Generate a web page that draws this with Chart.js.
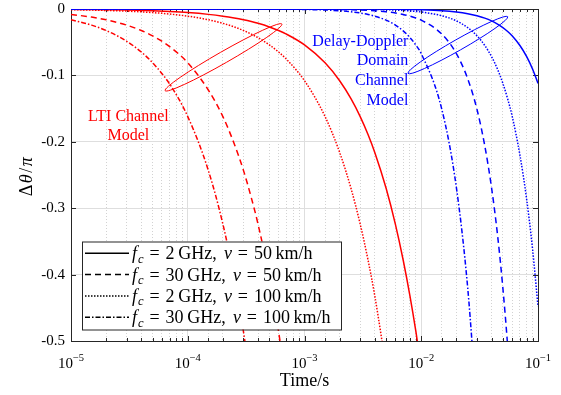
<!DOCTYPE html>
<html lang="en">
<head>
<meta charset="UTF-8" />
<title>Phase error over time</title>
<script src="https://cdn.jsdelivr.net/npm/chart.js@4.4.0/dist/chart.umd.min.js"></script>
<style>
  html, body { margin: 0; padding: 0; background: #fff; }
  #wrap { width: 561px; height: 395px; }
</style>
</head>
<body>
<div id="wrap"><canvas id="phaseChart" width="561" height="395"></canvas></div>
<script>
// time axis samples (s)
const timeS = [1e-5, 1.5e-5, 2e-5, 3e-5, 4e-5, 5e-5, 7e-5, 1e-4, 1.5e-4, 2e-4, 2.5e-4,
  3e-4, 3.5e-4, 4e-4, 5e-4, 6e-4, 7e-4, 1e-3, 1.5e-3, 2e-3, 2.5e-3, 3e-3, 3.5e-3, 4e-3,
  5e-3, 6e-3, 7e-3, 8e-3, 9e-3, 1e-2, 1.5e-2, 2e-2, 2.5e-2, 3e-2, 3.5e-2, 4e-2, 4.5e-2,
  5e-2, 5.5e-2, 6e-2, 7e-2, 8e-2, 9e-2, 1e-1];

// LTI channel model, delta theta / pi
const ltiSolid = [-0.0005, -0.0008, -0.0011, -0.0016, -0.0022, -0.0027, -0.0038, -0.0054,
  -0.0081, -0.0108, -0.0135, -0.0162, -0.0189, -0.0216, -0.027, -0.0324, -0.0378, -0.054,
  -0.081, -0.108, -0.135, -0.162, -0.189, -0.216, -0.27, -0.324, -0.378, -0.432, -0.486,
  -0.54, null, null, null, null, null, null, null, null, null, null, null, null, null, null];
const ltiDashed = [-0.0081, -0.0122, -0.0162, -0.0243, -0.0324, -0.0405, -0.0567, -0.081,
  -0.122, -0.162, -0.203, -0.243, -0.284, -0.324, -0.405, -0.486, -0.567,
  null, null, null, null, null, null, null, null, null, null, null, null, null, null, null,
  null, null, null, null, null, null, null, null, null, null, null, null];
const ltiDotted = [-0.0011, -0.0016, -0.0022, -0.0032, -0.0043, -0.0054, -0.0076, -0.0108,
  -0.0162, -0.0216, -0.027, -0.0324, -0.0378, -0.0432, -0.054, -0.0648, -0.0756, -0.108,
  -0.162, -0.216, -0.27, -0.324, -0.378, -0.432, -0.54,
  null, null, null, null, null, null, null, null, null, null, null, null, null, null, null,
  null, null, null, null];
const ltiDashDot = [-0.0162, -0.0243, -0.0324, -0.0486, -0.0648, -0.081, -0.113, -0.162,
  -0.243, -0.324, -0.405, -0.486, -0.567,
  null, null, null, null, null, null, null, null, null, null, null, null, null, null, null,
  null, null, null, null, null, null, null, null, null, null, null, null, null, null, null, null];

// delay-Doppler domain channel model
const ddSolid = [0, 0, 0, 0, 0, 0, 0, 0, 0, 0, 0, 0, 0, 0, 0, 0, 0, 0, 0, 0, 0, 0, 0, 0,
  -0.0003, -0.0004, -0.0005, -0.0007, -0.0009, -0.0011, -0.0025, -0.0045, -0.007, -0.0101,
  -0.0137, -0.0179, -0.0227, -0.028, -0.0339, -0.0403, -0.0549, -0.0717, -0.0907, -0.112];
const ddDashed = [0, 0, 0, 0, 0, 0, 0, 0, 0, 0, 0, 0, 0, 0, 0, 0, 0,
  -0.0002, -0.0004, -0.0007, -0.0011, -0.0015, -0.0021, -0.0027, -0.0042, -0.006, -0.0082,
  -0.0108, -0.0136, -0.0168, -0.0378, -0.0672, -0.105, -0.151, -0.206, -0.269, -0.34, -0.42,
  -0.508, -0.605, null, null, null, null];
const ddDotted = [0, 0, 0, 0, 0, 0, 0, 0, 0, 0, 0, 0, 0, 0, 0, 0, 0, 0, 0, 0,
  -0.0003, -0.0004, -0.0005, -0.0007, -0.0011, -0.0016, -0.0022, -0.0029, -0.0036, -0.0045,
  -0.0101, -0.0179, -0.028, -0.0403, -0.0549, -0.0717, -0.0907, -0.112, -0.1355, -0.161,
  -0.22, -0.287, -0.363, -0.448];
const ddDashDot = [0, 0, 0, 0, 0, 0, 0, 0, 0, 0, 0, 0, 0, 0,
  -0.0002, -0.0002, -0.0003, -0.0007, -0.0015, -0.0027, -0.0042, -0.006, -0.0082, -0.0108,
  -0.0168, -0.0242, -0.0329, -0.043, -0.0544, -0.0672, -0.151, -0.269, -0.42, -0.605,
  null, null, null, null, null, null, null, null, null, null];

const yTickValues = [0, -0.1, -0.2, -0.3, -0.4, -0.5];
const yTickLabels = ['0', '-0.1', '-0.2', '-0.3', '-0.4', '-0.5'];
const xTickValues = [1e-5, 1e-4, 1e-3, 1e-2, 1e-1];
const xTickExps = ['\u22125', '\u22124', '\u22123', '\u22122', '\u22121'];

const legendFc = ['2', '30', '2', '30'];
const legendV = ['50', '50', '100', '100'];
const legendDash = [[], [6, 4], [1.5, 1.5], [5, 2, 1.5, 2]];

const RED = '#ff0000';
const BLUE = '#0000ff';
const FONT = '"Liberation Serif", "Times New Roman", serif';

function pts(ys) {
  return timeS.map((t, i) => ({ x: t, y: ys[i] }));
}

function line(ys, color, dash) {
  return {
    data: pts(ys),
    borderColor: color,
    borderWidth: 1.5,
    borderDash: dash,
    pointRadius: 0,
    fill: false,
    cubicInterpolationMode: 'monotone',
    spanGaps: false,
  };
}

function isDecade(v) {
  const l = Math.log10(v);
  return Math.abs(l - Math.round(l)) < 1e-6;
}

const decor = {
  id: 'decor',
  beforeDatasetsDraw(chart) {
    const { ctx, chartArea: a, scales } = chart;
    const xs = scales.x;
    ctx.save();
    ctx.strokeStyle = '#262626';
    ctx.lineWidth = 1;
    ctx.beginPath();
    xs.ticks.forEach((tk) => {
      const px = Math.round(xs.getPixelForValue(tk.value)) + 0.5;
      const len = isDecade(tk.value) ? 5 : 3;
      ctx.moveTo(px, a.bottom); ctx.lineTo(px, a.bottom - len);
      ctx.moveTo(px, a.top); ctx.lineTo(px, a.top + len);
    });
    yTickValues.forEach((v) => {
      const py = Math.round(scales.y.getPixelForValue(v)) + 0.5;
      ctx.moveTo(a.left, py); ctx.lineTo(a.left + 5, py);
      ctx.moveTo(a.right, py); ctx.lineTo(a.right - 5, py);
    });
    ctx.stroke();
    ctx.strokeRect(Math.round(a.left) + 0.5, Math.round(a.top) + 0.5,
      Math.round(a.right - a.left), Math.round(a.bottom - a.top));
    ctx.restore();
  },
  afterDraw(chart) {
    const { ctx, chartArea: a, scales } = chart;
    const xs = scales.x, ys = scales.y;
    ctx.save();
    ctx.fillStyle = '#000';

    // y tick labels
    ctx.font = '15px ' + FONT;
    ctx.textAlign = 'right';
    ctx.textBaseline = 'middle';
    yTickValues.forEach((v, i) => {
      ctx.fillText(yTickLabels[i], a.left - 6, ys.getPixelForValue(v));
    });

    // x tick labels 10^n
    ctx.textBaseline = 'alphabetic';
    ctx.textAlign = 'left';
    xTickValues.forEach((v, i) => {
      ctx.font = '15px ' + FONT;
      const w1 = ctx.measureText('10').width;
      ctx.font = '10.5px ' + FONT;
      const w2 = ctx.measureText(xTickExps[i]).width;
      const x0 = xs.getPixelForValue(v) - (w1 + w2) / 2;
      ctx.font = '15px ' + FONT;
      ctx.fillText('10', x0, a.bottom + 27);
      ctx.font = '10.5px ' + FONT;
      ctx.fillText(xTickExps[i], x0 + w1, a.bottom + 20);
    });

    // x title
    ctx.font = '18px ' + FONT;
    ctx.textAlign = 'center';
    ctx.fillText('Time/s', (a.left + a.right) / 2, a.bottom + 45);

    // y title, rotated
    ctx.save();
    ctx.translate(27, (a.top + a.bottom) / 2 + 1);
    ctx.rotate(-Math.PI / 2);
    const yParts = [['\u0394', ''], ['\u03b8', 'italic '], ['/', ''], ['\u03c0', 'italic ']];
    let tot = 0;
    yParts.forEach((p) => { ctx.font = p[1] + '18px ' + FONT; tot += ctx.measureText(p[0]).width + 1.5; });
    let cx = -tot / 2;
    ctx.textAlign = 'left';
    ctx.textBaseline = 'middle';
    yParts.forEach((p) => {
      ctx.font = p[1] + '18px ' + FONT;
      ctx.fillText(p[0], cx, 0);
      cx += ctx.measureText(p[0]).width + 1.5;
    });
    ctx.restore();

    // ellipses marking the two model groups
    const ellipses = [
      { from: [6.4e-5, -0.123], to: [6.4e-4, -0.0226], minor: 5.8, color: RED },
      { from: [7.7e-3, -0.097], to: [5.5e-2, -0.0116], minor: 5.5, color: BLUE },
    ];
    ctx.lineWidth = 1;
    ellipses.forEach((e) => {
      const x1 = xs.getPixelForValue(e.from[0]), y1 = ys.getPixelForValue(e.from[1]);
      const x2 = xs.getPixelForValue(e.to[0]), y2 = ys.getPixelForValue(e.to[1]);
      const len = Math.hypot(x2 - x1, y2 - y1) / 2;
      ctx.strokeStyle = e.color;
      ctx.beginPath();
      ctx.ellipse((x1 + x2) / 2, (y1 + y2) / 2, len, e.minor, Math.atan2(y2 - y1, x2 - x1), 0, Math.PI * 2);
      ctx.stroke();
    });

    // group labels
    ctx.font = '16px ' + FONT;
    ctx.fillStyle = RED;
    ctx.textAlign = 'center';
    const lx = xs.getPixelForValue(3.1e-5), ly = ys.getPixelForValue(-0.168);
    ctx.fillText('LTI Channel', lx, ly);
    ctx.fillText('Model', lx, ly + 19.5);

    ctx.fillStyle = BLUE;
    ctx.textAlign = 'right';
    const bx = xs.getPixelForValue(7.75e-3), by = ys.getPixelForValue(-0.055);
    ['Delay-Doppler', 'Domain', 'Channel', 'Model'].forEach((s, i) => {
      ctx.fillText(s, bx, by + i * 19.7);
    });

    // legend
    const L = { x: 82, y: 241.5, w: 259, h: 88, row: 21.3, first: 11.8 };
    ctx.fillStyle = '#fff';
    ctx.fillRect(L.x, L.y, L.w, L.h);
    ctx.strokeStyle = '#262626';
    ctx.lineWidth = 1;
    ctx.strokeRect(L.x + 0.5, L.y + 0.5, L.w, L.h);
    const S = 18;
    legendFc.forEach((fc, i) => {
      const ry = L.y + L.first + i * L.row;
      ctx.strokeStyle = '#000';
      ctx.lineWidth = 1.5;
      ctx.setLineDash(legendDash[i]);
      ctx.beginPath();
      ctx.moveTo(L.x + 3, ry); ctx.lineTo(L.x + 47, ry);
      ctx.stroke();
      ctx.setLineDash([]);
      ctx.fillStyle = '#000';
      ctx.textAlign = 'left';
      ctx.textBaseline = 'alphabetic';
      let px = L.x + 50;
      const base = ry + 6;
      const put = (txt, style, sz, dy) => {
        ctx.font = style + sz + 'px ' + FONT;
        ctx.fillText(txt, px, base + dy);
        px += ctx.measureText(txt).width;
      };
      put('f', 'italic ', S, 0); px += 1;
      put('c', 'italic ', S * 0.7, 3.5);
      px += S * 0.33; put('=', '', S, 0); px += S * 0.33;
      put(fc, '', S, 0); px += S * 0.2;
      put('GHz', '', S, 0); put(',', '', S, 0); px += S * 0.4;
      put('v', 'italic ', S, 0);
      px += S * 0.33; put('=', '', S, 0); px += S * 0.33;
      put(legendV[i], '', S, 0); px += S * 0.2;
      put('km/h', '', S, 0);
    });
    ctx.restore();
  },
};

const phaseChart = new Chart(document.getElementById('phaseChart').getContext('2d'), {
  type: 'line',
  data: {
    datasets: [
      line(ddSolid, BLUE, []),
      line(ddDashed, BLUE, [6, 4]),
      line(ddDotted, BLUE, [1.5, 1.5]),
      line(ddDashDot, BLUE, [5, 2, 1.5, 2]),
      line(ltiSolid, RED, []),
      line(ltiDashed, RED, [6, 4]),
      line(ltiDotted, RED, [1.5, 1.5]),
      line(ltiDashDot, RED, [5, 2, 1.5, 2]),
    ],
  },
  options: {
    responsive: false,
    devicePixelRatio: 1,
    animation: false,
    layout: { padding: { top: 9, right: 23, left: 0, bottom: 0 } },
    plugins: { legend: { display: false }, tooltip: { enabled: false } },
    scales: {
      x: {
        type: 'logarithmic',
        min: 1e-5,
        max: 1e-1,
        afterFit: (s) => { s.height = 54; },
        ticks: { display: false, autoSkip: false },
        grid: {
          drawTicks: false,
          color: (c) => (c.tick && isDecade(c.tick.value) ? '#dedede' : '#d2d2d2'),
          lineWidth: 1,
        },
        border: {
          display: false,
          dash: (c) => (c.tick && !isDecade(c.tick.value) ? [1, 2] : []),
        },
      },
      y: {
        type: 'linear',
        min: -0.5,
        max: 0,
        afterFit: (s) => { s.width = 71; },
        ticks: { display: false, stepSize: 0.1 },
        grid: { drawTicks: false, color: '#dedede', lineWidth: 1 },
        border: { display: false },
      },
    },
  },
  plugins: [decor],
});
</script>
</body>
</html>
